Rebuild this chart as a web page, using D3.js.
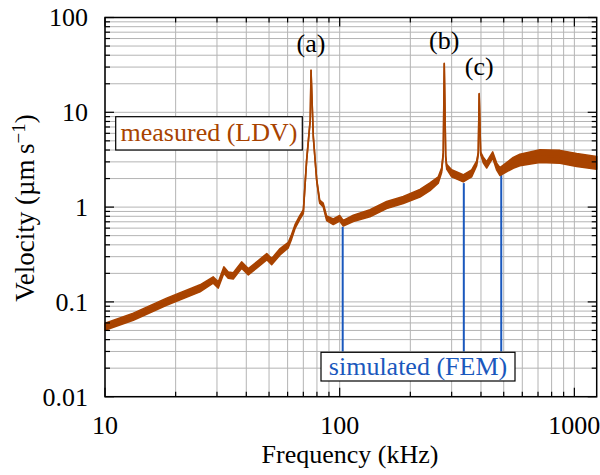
<!DOCTYPE html>
<html>
<head>
<meta charset="utf-8">
<script src="https://cdn.jsdelivr.net/npm/d3@7"></script>
<style>
body { margin: 0; background: #ffffff; }
</style>
</head>
<body>
<div></div>
<script>
// measured (LDV) spectrum
var measFreq = [10.0, 13.2, 18.3, 25.4, 28.9, 30.4, 32.1, 33.5, 35.2, 38.2, 40.8, 44.3, 48.9, 51.3, 55.7,
	60.4, 62.4, 64.5, 67.3, 70.0, 71.1, 72.3, 74.9, 75.5, 77.2, 79.8, 82.2, 85.1, 88.0, 93.9, 100,
	103.6, 114.3, 134.6, 158.5, 186.6, 219.8, 242.5, 263, 272, 276.3, 279, 283, 285.7, 300, 336,
	365, 383.6, 389.5, 393, 398.8, 409, 423, 448.7, 466.7, 482, 549, 586, 713.6, 868, 1023, 1245];
var measVel = [0.0547, 0.0698, 0.1005, 0.139, 0.170, 0.151, 0.217, 0.192, 0.188, 0.245, 0.208, 0.245, 0.300, 0.266, 0.338,
	0.398, 0.487, 0.621, 0.762, 0.894, 1.64, 3.1, 8.3, 28, 5.5, 1.93, 1.14, 1.05, 0.762, 0.70, 0.762,
	0.675, 0.762, 0.86, 1.05, 1.19, 1.40, 1.64, 1.93, 2.46, 3.69, 33, 3.4, 2.67, 2.27, 2.01,
	2.27, 2.90, 3.7, 15.8, 3.69, 3.14, 2.79, 3.55, 2.67, 2.37, 2.93, 3.14, 3.45, 3.39, 3.14, 2.93];
// width of the noise band (ratio above / below the centre value)
var measScatter = [1.09, 1.09, 1.09, 1.09, 1.08, 1.08, 1.08, 1.08, 1.08, 1.08, 1.08, 1.08, 1.08, 1.08, 1.08,
	1.07, 1.06, 1.05, 1.05, 1.05, 1.04, 1.03, 1.02, 1.0, 1.02, 1.03, 1.04, 1.05, 1.06, 1.07, 1.07,
	1.07, 1.08, 1.09, 1.09, 1.09, 1.10, 1.10, 1.08, 1.06, 1.03, 1.0, 1.03, 1.06, 1.09, 1.09,
	1.09, 1.06, 1.03, 1.0, 1.03, 1.07, 1.08, 1.08, 1.09, 1.10, 1.14, 1.15, 1.17, 1.17, 1.17, 1.17];

// simulated (FEM) resonances
var femFreq = [103, 338, 488];
var femVel = [0.62, 1.79, 2.18];
var femBase = 0.03;

// peak labels
var peakNames = ['(a)', '(b)', '(c)'];
var peakFreq = [75.5, 279, 393];
var peakVel = [43, 47, 25];

var xTickLabels = [10, 100, 1000];
var yTickLabels = [0.01, 0.1, 1, 10, 100];
var yTickText = ['0.01', '0.1', '1', '10', '100'];

var brown = '#a84300';
var blue = '#1a58bd';
var serif = '"Liberation Serif", Tinos, "Times New Roman", Times, serif';

var svg = d3.select('body').select('div').append('svg')
	.attr('width', 600)
	.attr('height', 475)
	.attr('font-family', serif);

var x = d3.scaleLog().domain([10, 1245]).range([105, 596.7]);
var y = d3.scaleLog().domain([0.01, 100]).range([396.7, 17.5]);

var gridGroup = svg.append('g');
var dataGroup = svg.append('g');
var frameGroup = svg.append('g');
var textGroup = svg.append('g').attr('font-family', serif);

function isMajor(v) {
	var l = Math.log10(v);
	return Math.abs(l - Math.round(l)) < 1e-6;
}

var xTicks = x.ticks();
var yTicks = y.ticks();

// grid
gridGroup.selectAll('line.gx')
	.data(xTicks)
	.enter()
	.append('line')
	.attr('x1', function(d) { return x(d); })
	.attr('x2', function(d) { return x(d); })
	.attr('y1', y(100))
	.attr('y2', y(0.01))
	.attr('stroke', '#b4b4b4')
	.attr('stroke-width', 1);

gridGroup.selectAll('line.gy')
	.data(yTicks)
	.enter()
	.append('line')
	.attr('y1', function(d) { return y(d); })
	.attr('y2', function(d) { return y(d); })
	.attr('x1', x(10))
	.attr('x2', x(1245))
	.attr('stroke', '#b4b4b4')
	.attr('stroke-width', 1);

// FEM stems
dataGroup.selectAll('line.fem')
	.data(femFreq)
	.enter()
	.append('line')
	.attr('x1', function(d) { return x(d); })
	.attr('x2', function(d) { return x(d); })
	.attr('y1', y(femBase))
	.attr('y2', function(d, i) { return y(femVel[i]); })
	.attr('stroke', blue)
	.attr('stroke-width', 2);

// measured band + centre line
var meas = measFreq.map(function(f, i) {
	return { f: f, v: measVel[i], s: measScatter[i] };
});

var band = d3.area()
	.x(function(d) { return x(d.f); })
	.y0(function(d) { return y(d.v / d.s); })
	.y1(function(d) { return y(d.v * d.s); });

dataGroup.append('path')
	.datum(meas)
	.attr('d', band)
	.attr('fill', brown)
	.attr('stroke', brown)
	.attr('stroke-width', 1.5)
	.attr('stroke-linejoin', 'round');

dataGroup.append('path')
	.datum(meas)
	.attr('d', d3.line().x(function(d) { return x(d.f); }).y(function(d) { return y(d.v); }))
	.attr('fill', 'none')
	.attr('stroke', brown)
	.attr('stroke-width', 1.6);

// frame
frameGroup.append('rect')
	.attr('x', x(10))
	.attr('y', y(100))
	.attr('width', x(1245) - x(10))
	.attr('height', y(0.01) - y(100))
	.attr('fill', 'none')
	.attr('stroke', '#000')
	.attr('stroke-width', 1.5);

// ticks on all four sides, pointing inward
xTicks.forEach(function(d) {
	var len = isMajor(d) ? 9 : 5;
	frameGroup.append('line')
		.attr('x1', x(d)).attr('x2', x(d))
		.attr('y1', y(0.01)).attr('y2', y(0.01) - len)
		.attr('stroke', '#000').attr('stroke-width', 1.2);
	frameGroup.append('line')
		.attr('x1', x(d)).attr('x2', x(d))
		.attr('y1', y(100)).attr('y2', y(100) + len)
		.attr('stroke', '#000').attr('stroke-width', 1.2);
});
yTicks.forEach(function(d) {
	var len = isMajor(d) ? 9 : 5;
	frameGroup.append('line')
		.attr('y1', y(d)).attr('y2', y(d))
		.attr('x1', x(10)).attr('x2', x(10) + len)
		.attr('stroke', '#000').attr('stroke-width', 1.2);
	frameGroup.append('line')
		.attr('y1', y(d)).attr('y2', y(d))
		.attr('x1', x(1245)).attr('x2', x(1245) - len)
		.attr('stroke', '#000').attr('stroke-width', 1.2);
});

// tick labels
textGroup.selectAll('text.xl')
	.data(xTickLabels)
	.enter()
	.append('text')
	.attr('x', function(d) { return x(d); })
	.attr('y', 434)
	.attr('text-anchor', 'middle')
	.attr('font-size', 26)
	.text(function(d) { return d; });

textGroup.selectAll('text.yl')
	.data(yTickLabels)
	.enter()
	.append('text')
	.attr('x', 88)
	.attr('y', function(d) { return y(d); })
	.attr('dy', '0.34em')
	.attr('text-anchor', 'end')
	.attr('font-size', 26)
	.text(function(d, i) { return yTickText[i]; });

// axis titles
textGroup.append('text')
	.attr('x', 350)
	.attr('y', 463)
	.attr('text-anchor', 'middle')
	.attr('font-size', 26)
	.text('Frequency (kHz)');

var yTitle = textGroup.append('text')
	.attr('transform', 'translate(34,208) rotate(-90)')
	.attr('text-anchor', 'middle')
	.attr('font-size', 27);
yTitle.append('tspan').text('Velocity (\u00b5m\u2009s');
yTitle.append('tspan').attr('dy', '-0.45em').attr('font-size', 19).text('\u22121');
yTitle.append('tspan').attr('dy', '0.3em').text(')');

// peak labels
textGroup.selectAll('text.peak')
	.data(peakNames)
	.enter()
	.append('text')
	.attr('x', function(d, i) { return x(peakFreq[i]); })
	.attr('y', function(d, i) { return y(peakVel[i]); })
	.attr('text-anchor', 'middle')
	.attr('font-size', 26)
	.text(function(d) { return d; });

// legend labels
var ldvBox = textGroup.append('g');
ldvBox.append('rect')
	.attr('x', 115.7).attr('y', 116.7)
	.attr('width', 186.6).attr('height', 33.3)
	.attr('fill', '#fff')
	.attr('stroke', '#000')
	.attr('stroke-width', 1.2);
ldvBox.append('text')
	.attr('x', 209).attr('y', 141)
	.attr('text-anchor', 'middle')
	.attr('font-size', 26)
	.attr('fill', brown)
	.text('measured (LDV)');

var femBox = textGroup.append('g');
femBox.append('rect')
	.attr('x', 321).attr('y', 352.3)
	.attr('width', 194).attr('height', 28.7)
	.attr('fill', '#fff')
	.attr('stroke', '#000')
	.attr('stroke-width', 1.2);
femBox.append('text')
	.attr('x', 418).attr('y', 375)
	.attr('text-anchor', 'middle')
	.attr('font-size', 26)
	.attr('fill', blue)
	.text('simulated (FEM)');
</script>
</body>
</html>
